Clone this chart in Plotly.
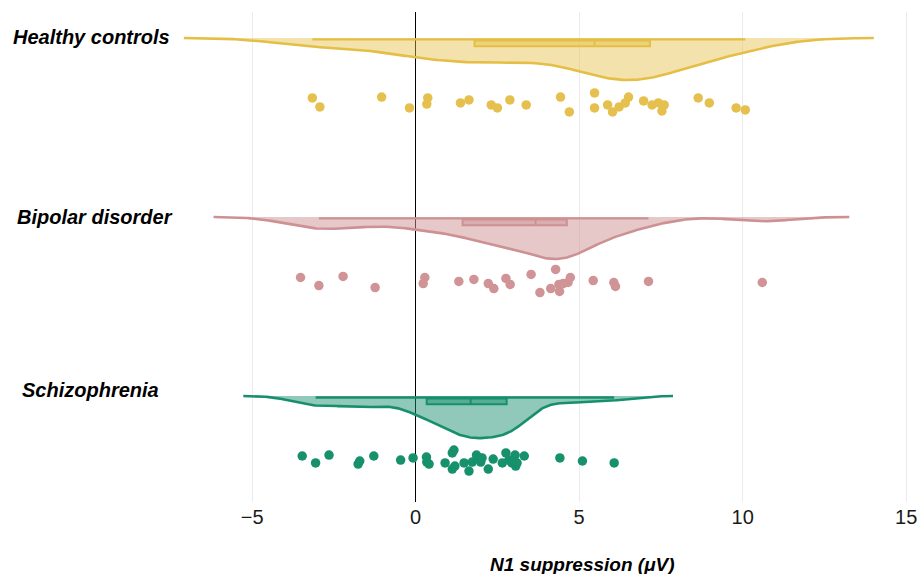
import numpy as np
import plotly.graph_objects as go

# ---------------- data ----------------
groups = ["Healthy controls", "Bipolar disorder", "Schizophrenia"]
group_pos = [3, 2, 1]

healthy_vals = [-3.16, -2.93, -1.04, -0.19, 0.37, 0.34, 1.37, 1.63, 2.31, 2.50,
                2.88, 3.38, 4.43, 4.70, 5.47, 5.47, 5.87, 6.02, 6.22, 6.41,
                6.51, 6.97, 7.23, 7.42, 7.53, 7.60, 8.64, 8.98, 9.80, 10.08]
healthy_jit = [-0.335, -0.385, -0.330, -0.391, -0.335, -0.369, -0.363, -0.346, -0.374, -0.391,
               -0.346, -0.374, -0.330, -0.413, -0.307, -0.391, -0.374, -0.413, -0.385, -0.363,
               -0.330, -0.352, -0.374, -0.363, -0.408, -0.374, -0.335, -0.363, -0.391, -0.402]

bipolar_vals = [-3.52, -2.96, -2.22, -1.24, 0.28, 0.23, 1.32, 1.78, 2.22, 2.39,
                2.76, 2.89, 3.53, 3.80, 4.13, 4.28, 4.38, 4.40, 4.51, 4.66,
                4.73, 5.43, 6.06, 6.11, 7.12, 10.60]
bipolar_jit = [-0.338, -0.383, -0.332, -0.394, -0.338, -0.372, -0.360, -0.349, -0.372, -0.400,
               -0.343, -0.377, -0.321, -0.422, -0.400, -0.293, -0.377, -0.416, -0.372, -0.366,
               -0.338, -0.355, -0.366, -0.388, -0.360, -0.366]

schizo_vals = [-3.47, -3.06, -2.65, -1.76, -1.71, -1.28, -0.46, -0.08, 0.33, 0.34,
               0.41, 0.90, 1.12, 1.17, 1.12, 1.20, 1.48, 1.63, 1.73, 1.86,
               1.96, 1.99, 2.03, 2.22, 2.37, 2.65, 2.76, 2.85, 2.94, 3.04,
               3.06, 3.10, 3.32, 4.41, 5.10, 6.07]
schizo_jit = [-0.335, -0.374, -0.330, -0.380, -0.363, -0.335, -0.358, -0.346, -0.341, -0.369,
              -0.380, -0.374, -0.318, -0.302, -0.408, -0.391, -0.374, -0.419, -0.369, -0.330,
              -0.346, -0.369, -0.346, -0.408, -0.352, -0.374, -0.318, -0.358, -0.374, -0.330,
              -0.391, -0.374, -0.335, -0.346, -0.363, -0.374]

bandwidths = [1.31, 0.887, 0.60]
label_nudge = [0.004, -0.002, 0.033]
label_x = [-0.1135, -0.1075, -0.1145]

line_colors = ["#E5BE45", "#CE9193", "#178F6C"]
fill_colors = ["rgba(229,190,69,0.45)", "rgba(206,145,147,0.50)", "rgba(23,143,108,0.48)"]
point_colors = ["#E6C04E", "#D09496", "#17906C"]

tick_vals = [-5, 0, 5, 10, 15]

# ---------------- figure ----------------
VIOLIN_DEPTH = 0.235
BOX_OFFSET = 0.03
BOX_WIDTH = 0.033
WHISKER_OFFSET = 0.008
FONT = "Liberation Sans, Arial, sans-serif"

fig = go.Figure()
all_vals = [healthy_vals, bipolar_vals, schizo_vals]
all_jit = [healthy_jit, bipolar_jit, schizo_jit]

for i, name in enumerate(groups):
    vals = np.array(all_vals[i])
    pos = group_pos[i]
    bw = bandwidths[i]
    grid = np.linspace(vals.min() - 3 * bw, vals.max() + 3 * bw, 512)
    dens = np.exp(-0.5 * ((grid[:, None] - vals[None, :]) / bw) ** 2).sum(axis=1)
    dens = dens / dens.max()
    yv = pos - VIOLIN_DEPTH * dens
    # filled half violin
    fig.add_trace(go.Scatter(
        x=np.concatenate([grid, grid[::-1]]),
        y=np.concatenate([yv, np.full(grid.size, pos)]),
        fill="toself", fillcolor=fill_colors[i], mode="lines",
        line=dict(width=0), hoverinfo="skip", showlegend=False))
    # outline of the density
    fig.add_trace(go.Scatter(
        x=grid, y=yv, mode="lines",
        line=dict(color=line_colors[i], width=2.6),
        hoverinfo="skip", showlegend=False))

    # box statistics
    q1, med, q3 = np.percentile(vals, [25, 50, 75])
    iqr = q3 - q1
    lo = vals[vals >= q1 - 1.5 * iqr].min()
    hi = vals[vals <= q3 + 1.5 * iqr].max()
    fig.add_trace(go.Scatter(
        x=[lo, hi], y=[pos - WHISKER_OFFSET] * 2, mode="lines",
        line=dict(color=line_colors[i], width=2.4),
        hoverinfo="skip", showlegend=False))
    fig.add_trace(go.Box(
        orientation="h", y=[pos - BOX_OFFSET],
        q1=[q1], median=[med], q3=[q3], lowerfence=[q1], upperfence=[q3],
        width=BOX_WIDTH, line=dict(color=line_colors[i], width=2),
        fillcolor=fill_colors[i], boxpoints=False, showlegend=False,
        hoverinfo="skip"))

    # raw points
    fig.add_trace(go.Scatter(
        x=vals, y=pos + np.array(all_jit[i]), mode="markers",
        marker=dict(color=point_colors[i], size=9.5, line=dict(width=0)),
        showlegend=False))

    # group label
    fig.add_annotation(
        x=label_x[i], xref="paper", y=pos + label_nudge[i], yref="y",
        text="<b><i>%s</i></b>" % name, showarrow=False,
        xanchor="center", yanchor="middle",
        font=dict(family=FONT, size=20, color="#000000"))

fig.add_annotation(
    x=0.551, xref="paper", y=-0.128, yref="paper",
    text="<b><i>N1 suppression (μV)</i></b>", showarrow=False,
    xanchor="center", yanchor="middle",
    font=dict(family=FONT, size=19, color="#000000"))

fig.update_layout(
    width=919, height=574,
    margin=dict(l=175, r=4, t=12, b=72, autoexpand=False),
    paper_bgcolor="white", plot_bgcolor="white",
    boxmode="overlay",
    showlegend=False,
    xaxis=dict(
        range=[-7.36, 15.27], tickvals=tick_vals,
        showgrid=True, gridcolor="#EBEBEB", gridwidth=1,
        zeroline=True, zerolinecolor="#000000", zerolinewidth=1,
        showline=False, ticks="", ticklabelstandoff=1, automargin=False,
        tickfont=dict(family=FONT, size=20, color="#1a1a1a")),
    yaxis=dict(
        range=[0.408, 3.145], showgrid=False, zeroline=False, automargin=False,
        showticklabels=False, showline=False, ticks=""),
)

fig.write_html("out.html",
               config={"displayModeBar": False},
               post_script="document.body.style.margin='0px';document.body.style.overflow='hidden';")
